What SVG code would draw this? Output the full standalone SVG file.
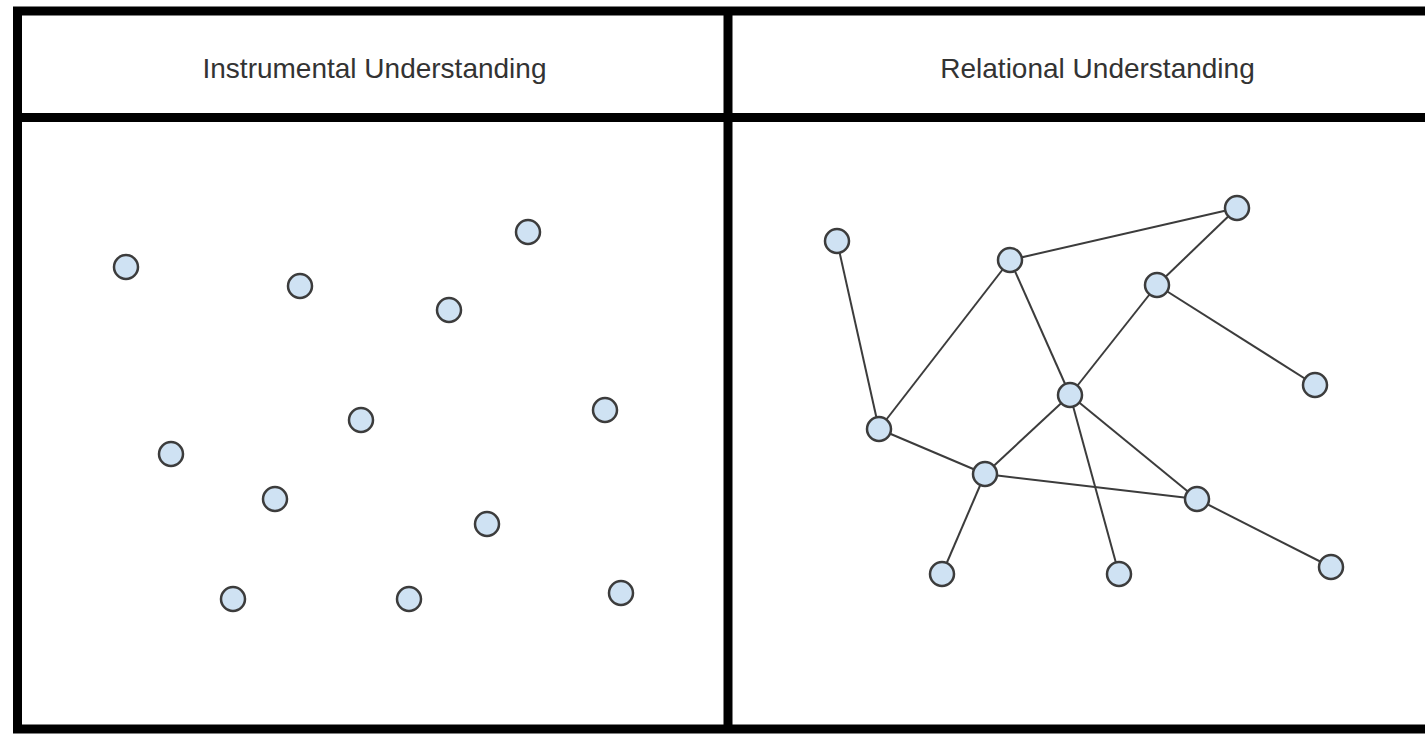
<svg xmlns="http://www.w3.org/2000/svg" width="1425" height="735" viewBox="0 0 1425 735">
<style>
.frame{fill:none;stroke:#000;stroke-width:9}
.title{font-family:"Liberation Sans",Arial,sans-serif;font-size:28px;fill:#333;text-anchor:middle}
.node{fill:#cfe2f3;stroke:#3c3c3c;stroke-width:2.5}
.edge{stroke:#3c3c3c;stroke-width:2;fill:none}
</style>
<rect width="1425" height="735" fill="#fff"/>
<g id="frame">
<rect class="frame" x="17.5" y="11" width="1460" height="718"/>
<line class="frame" x1="13" y1="117.5" x2="1425" y2="117.5"/>
<line class="frame" x1="728" y1="11" x2="728" y2="729"/>
</g>
<g id="headers">
<text id="title-instrumental" class="title" x="374.5" y="78">Instrumental Understanding</text>
<text id="title-relational" class="title" x="1097.5" y="78">Relational Understanding</text>
</g>
<g id="connectors">
<line class="edge" x1="837" y1="241" x2="879" y2="429"/>
<line class="edge" x1="879" y1="429" x2="1010" y2="260"/>
<line class="edge" x1="1010" y1="260" x2="1237" y2="208"/>
<line class="edge" x1="1010" y1="260" x2="1070" y2="395"/>
<line class="edge" x1="1237" y1="208" x2="1157" y2="285"/>
<line class="edge" x1="1157" y1="285" x2="1315" y2="385"/>
<line class="edge" x1="1157" y1="285" x2="1070" y2="395"/>
<line class="edge" x1="1070" y1="395" x2="985" y2="474"/>
<line class="edge" x1="879" y1="429" x2="985" y2="474"/>
<line class="edge" x1="985" y1="474" x2="1197" y2="499"/>
<line class="edge" x1="1070" y1="395" x2="1197" y2="499"/>
<line class="edge" x1="1070" y1="395" x2="1119" y2="574"/>
<line class="edge" x1="985" y1="474" x2="942" y2="574"/>
<line class="edge" x1="1197" y1="499" x2="1331" y2="567"/>
</g>
<g id="instrumental-nodes">
<g id="i1"><circle class="node" cx="126" cy="267" r="12"/></g>
<g id="i2"><circle class="node" cx="300" cy="286" r="12"/></g>
<g id="i3"><circle class="node" cx="528" cy="232" r="12"/></g>
<g id="i4"><circle class="node" cx="449" cy="310" r="12"/></g>
<g id="i5"><circle class="node" cx="361" cy="420" r="12"/></g>
<g id="i6"><circle class="node" cx="605" cy="410" r="12"/></g>
<g id="i7"><circle class="node" cx="171" cy="454" r="12"/></g>
<g id="i8"><circle class="node" cx="275" cy="499" r="12"/></g>
<g id="i9"><circle class="node" cx="487" cy="524" r="12"/></g>
<g id="i10"><circle class="node" cx="233" cy="599" r="12"/></g>
<g id="i11"><circle class="node" cx="409" cy="599" r="12"/></g>
<g id="i12"><circle class="node" cx="621" cy="593" r="12"/></g>
</g>
<g id="relational-nodes">
<g id="rA"><circle class="node" cx="837" cy="241" r="12"/></g>
<g id="rB"><circle class="node" cx="1010" cy="260" r="12"/></g>
<g id="rC"><circle class="node" cx="1237" cy="208" r="12"/></g>
<g id="rD"><circle class="node" cx="1157" cy="285" r="12"/></g>
<g id="rE"><circle class="node" cx="1315" cy="385" r="12"/></g>
<g id="rF"><circle class="node" cx="1070" cy="395" r="12"/></g>
<g id="rG"><circle class="node" cx="879" cy="429" r="12"/></g>
<g id="rH"><circle class="node" cx="985" cy="474" r="12"/></g>
<g id="rI"><circle class="node" cx="1197" cy="499" r="12"/></g>
<g id="rJ"><circle class="node" cx="942" cy="574" r="12"/></g>
<g id="rK"><circle class="node" cx="1119" cy="574" r="12"/></g>
<g id="rL"><circle class="node" cx="1331" cy="567" r="12"/></g>
</g>
</svg>
